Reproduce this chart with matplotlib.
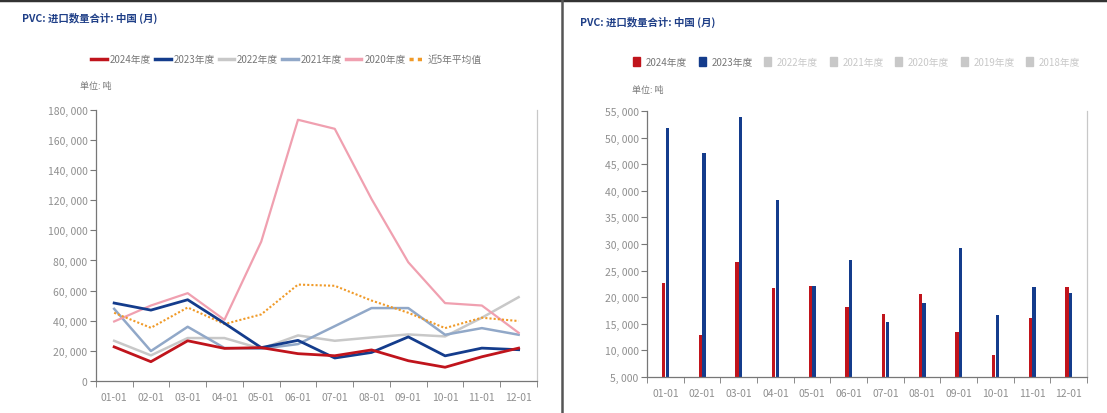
import matplotlib
matplotlib.use("Agg")
import matplotlib.pyplot as plt
import numpy as np
from matplotlib.lines import Line2D
from matplotlib.patches import Patch

plt.rcParams['font.family'] = ['Liberation Sans Narrow', 'Noto Sans CJK SC', 'DejaVu Sans']

# month labels
months = ['01-01', '02-01', '03-01', '04-01', '05-01', '06-01',
          '07-01', '08-01', '09-01', '10-01', '11-01', '12-01']

# monthly import volume, tonnes
y2024 = [22650, 12820, 26700, 21650, 22150, 18140, 16760, 20640, 13450, 9130, 16080, 21830]
y2023 = [51750, 47050, 53940, 38350, 22150, 26970, 15260, 18950, 29280, 16700, 21830, 20770]
y2022 = [26700, 17000, 28500, 28500, 21400, 30250, 26700, 28900, 30900, 29600, 42000, 55650]
y2021 = [47900, 19900, 36000, 21900, 21400, 24500, 36400, 48400, 48400, 30700, 35100, 30700]
y2020 = [39500, 50100, 58300, 40600, 92500, 173400, 167400, 120800, 78800, 51700, 50100, 32000]
avg5 = [45300, 35300, 48800, 37800, 44200, 64000, 63200, 53400, 45300, 35100, 42000, 39800]

title = 'PVC: 进口数量合计: 中国 (月)'
unit = '单位: 吨'
bar_hidden = ['2022年度', '2021年度', '2020年度', '2019年度', '2018年度']

c24 = '#c0141c'
c23 = '#143c8c'
c22 = '#c8c8c8'
c21 = '#91a8c8'
c20 = '#f0a0b0'
cav = '#f09a28'
tick_col = '#8f8f8f'
cjk = ['Noto Sans CJK SC', 'DejaVu Sans']
narrow = ['Liberation Sans Narrow', 'Noto Sans CJK SC', 'DejaVu Sans']

fig = plt.figure(figsize=(11.07, 4.14), dpi=100)

# frame lines
fig.add_artist(Line2D([0, 1], [0.997, 0.997], color='#333333', lw=2.5, transform=fig.transFigure))
fig.add_artist(Line2D([562 / 1107, 562 / 1107], [0, 1], color='#555555', lw=1.8, transform=fig.transFigure))


def style_axes(ax, ymin, ymax, step):
    x = np.arange(len(months))
    ax.set_xlim(-0.5, len(months) - 0.5)
    ax.set_ylim(ymin, ymax)
    ax.set_xticks(x)
    ax.set_xticklabels(months)
    ax.set_xticks(np.arange(-0.5, len(months)), minor=True)
    ax.tick_params(axis='x', which='major', length=0, pad=8, labelsize=7.5, colors=tick_col)
    ax.tick_params(axis='x', which='minor', length=4, color='#777777', direction='out')
    yt = np.arange(ymin, ymax + 1, step)
    ax.set_yticks(yt)
    ax.set_yticklabels(['{:,}'.format(int(v)).replace(',', ', ') for v in yt])
    ax.tick_params(axis='y', length=4, color='#777777', labelsize=7.5, labelcolor=tick_col, pad=2)
    ax.spines['top'].set_visible(False)
    ax.spines['left'].set_color('#777777')
    ax.spines['bottom'].set_color('#777777')
    ax.spines['right'].set_color('#c8c8c8')
    for s in ax.spines.values():
        s.set_linewidth(0.9)


# left: lines
ax1 = fig.add_axes([0.0865, 0.0773, 0.3986, 0.655])
x = np.arange(len(months))
ax1.plot(x, y2022, color=c22, lw=1.8, label='2022年度')
ax1.plot(x, y2021, color=c21, lw=1.8, label='2021年度')
ax1.plot(x, y2020, color=c20, lw=1.6, label='2020年度')
ax1.plot(x, avg5, color=cav, lw=1.5, ls=(0, (1, 1)), label='近5年平均值')
ax1.plot(x, y2023, color=c23, lw=2.0, label='2023年度')
ax1.plot(x, y2024, color=c24, lw=2.0, label='2024年度')
style_axes(ax1, 0, 180000, 20000)

h1 = [Line2D([], [], color=c24, lw=2.5), Line2D([], [], color=c23, lw=2.5),
      Line2D([], [], color=c22, lw=2.5), Line2D([], [], color=c21, lw=2.5),
      Line2D([], [], color=c20, lw=2.5), Line2D([], [], color=cav, lw=2.5, ls=(0, (1.2, 1.2)))]
l1 = ['2024年度', '2023年度', '2022年度', '2021年度', '2020年度', '近5年平均值']
leg1 = fig.legend(h1, l1, loc='center', bbox_to_anchor=(0.259, 0.855), ncol=6, frameon=False,
                  handlelength=1.6, columnspacing=0.4, handletextpad=0.3,
                  prop={'family': narrow, 'size': 7})
for t in leg1.get_texts():
    t.set_color('#777777')

fig.text(22 / 1107, 1 - 18 / 414, title, color='#1f3f87', fontsize=7.5, fontweight='bold',
         family=cjk, va='center', ha='left')
fig.text(80 / 1107, 1 - 87 / 414, unit, color='#777777', fontsize=6.5, family=cjk,
         va='center', ha='left')

# right: bars
ax2 = fig.add_axes([0.5845, 0.087, 0.3975, 0.6425])
ax2.bar(x - 0.05, y2024, width=0.09, color=c24, label='2024年度')
ax2.bar(x + 0.05, y2023, width=0.09, color=c23, label='2023年度')
style_axes(ax2, 5000, 55000, 5000)

h2 = [Patch(color=c24), Patch(color=c23)] + [Patch(color=c22) for _ in bar_hidden]
l2 = ['2024年度', '2023年度'] + bar_hidden
leg2 = fig.legend(h2, l2, loc='center', bbox_to_anchor=(0.774, 0.848), ncol=7, frameon=False,
                  handlelength=0.7, handleheight=1.0, columnspacing=1.2, handletextpad=0.6,
                  prop={'family': narrow, 'size': 7})
for i, t in enumerate(leg2.get_texts()):
    t.set_color('#777777' if i < 2 else '#c8c8c8')

fig.text(580 / 1107, 1 - 22 / 414, title, color='#1f3f87', fontsize=7.5, fontweight='bold',
         family=cjk, va='center', ha='left')
fig.text(632 / 1107, 1 - 90 / 414, unit, color='#777777', fontsize=6.5, family=cjk,
         va='center', ha='left')

fig.savefig('out.png', dpi=100)
